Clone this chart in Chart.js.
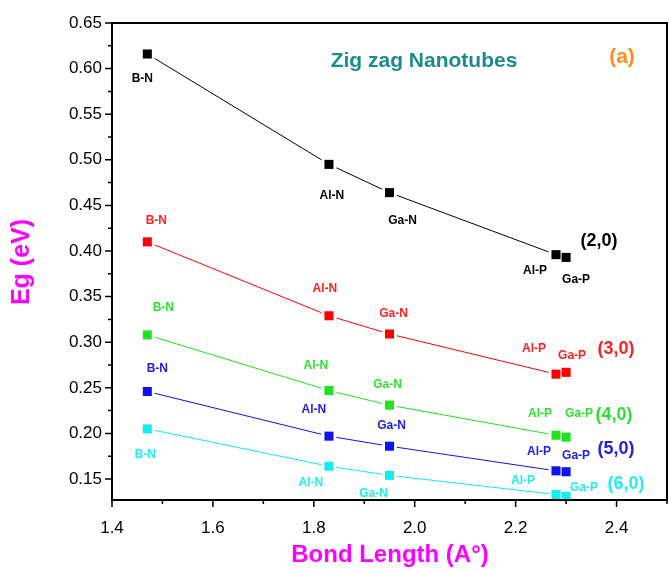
<!DOCTYPE html>
<html>
<head>
<meta charset="utf-8">
<script src="https://cdn.jsdelivr.net/npm/chart.js@4.4.0/dist/chart.umd.min.js"></script>
<style>
html,body{margin:0;padding:0;background:#fff;overflow:hidden;}
#wrap{width:671px;height:570px;position:relative;}
canvas{display:block;}
</style>
</head>
<body>
<div id="wrap"><canvas id="c" width="671" height="570"></canvas></div>
<script>
// ---- data ----
const materials = ['B-N', 'Al-N', 'Ga-N', 'Al-P', 'Ga-P'];
const bondLength = [1.47, 1.83, 1.95, 2.28, 2.30];
const eg20 = [0.616, 0.495, 0.464, 0.396, 0.393];
const eg30 = [0.410, 0.329, 0.309, 0.265, 0.267];
const eg40 = [0.308, 0.247, 0.231, 0.198, 0.196];
const eg50 = [0.246, 0.197, 0.186, 0.159, 0.158];
const eg60 = [0.205, 0.164, 0.154, 0.133, 0.131];
const seriesNames = ['(2,0)', '(3,0)', '(4,0)', '(5,0)', '(6,0)'];
const xTicks = [1.4, 1.6, 1.8, 2.0, 2.2, 2.4];
const yTicks = [0.15, 0.20, 0.25, 0.30, 0.35, 0.40, 0.45, 0.50, 0.55, 0.60, 0.65];
const xMinorTicks = [1.5, 1.7, 1.9, 2.1, 2.3, 2.5];
const yMinorTicks = [0.175, 0.225, 0.275, 0.325, 0.375, 0.425, 0.475, 0.525, 0.575, 0.625];

// ---- styling ----
const allSeries = [eg20, eg30, eg40, eg50, eg60];
const colors = ['#000000', '#ff0000', '#22e022', '#1010f0', '#10eeee'];
const labelColors = ['#000000', '#ff2020', '#30e030', '#2020e0', '#20eeee'];
// pixel offsets of the point labels relative to their markers
const labelOffsets = [
  [[-5, 25], [3, 31], [13, 28], [-21, 16], [10, 22]],
  [[9, -21], [-4, -27], [4, -20], [-22, -25], [6, -17]],
  [[16, -27], [-13, -25], [-2, -20], [-16, -22], [13, -23]],
  [[10, -23], [-15, -26], [2, -21], [-17, -19], [10, -16]],
  [[-2, 26], [-18, 16], [-16, 18], [-33, -14], [18, -9]]
];
const seriesLabelOffsets = [[33, -16], [50, -23], [48, -22], [50, -23], [60, -12]];

const FONT = "'Liberation Sans', Arial, sans-serif";

const datasets = [];
allSeries.forEach((vals, i) => {
  const pts = bondLength.map((x, j) => ({x: x, y: vals[j]}));
  datasets.push({
    data: pts, showLine: true, borderColor: colors[i], borderWidth: 1,
    pointRadius: 0, order: 3,
    segment: { borderColor: ctx => ctx.p1DataIndex === 4 ? 'rgba(0,0,0,0)' : colors[i] }
  });
  datasets.push({
    data: pts, showLine: false, pointStyle: 'rect', pointRadius: 10.5,
    pointBackgroundColor: '#ffffff', pointBorderWidth: 0, order: 2, clip: 0
  });
  datasets.push({
    data: pts, showLine: false, pointStyle: 'rect', pointRadius: 6.4,
    pointBackgroundColor: colors[i], pointBorderColor: colors[i], pointBorderWidth: 0, order: 1
  });
});

const decor = {
  id: 'decor',
  afterDraw(chart) {
    const ctx = chart.ctx, a = chart.chartArea;
    const xs = chart.scales.x, ys = chart.scales.y;
    ctx.save();
    // frame
    ctx.strokeStyle = '#000'; ctx.lineWidth = 2;
    ctx.strokeRect(a.left, a.top, a.right - a.left, a.bottom - a.top);
    // ticks
    ctx.lineWidth = 1.5;
    ctx.beginPath();
    xTicks.forEach(v => { const p = xs.getPixelForValue(v); ctx.moveTo(p, a.bottom); ctx.lineTo(p, a.bottom + 7); });
    xMinorTicks.forEach(v => { const p = xs.getPixelForValue(v); ctx.moveTo(p, a.bottom); ctx.lineTo(p, a.bottom + 4); });
    yTicks.forEach(v => { const p = ys.getPixelForValue(v); ctx.moveTo(a.left, p); ctx.lineTo(a.left - 7, p); });
    yMinorTicks.forEach(v => { const p = ys.getPixelForValue(v); ctx.moveTo(a.left, p); ctx.lineTo(a.left - 4, p); });
    ctx.stroke();

    // point labels
    ctx.textAlign = 'center'; ctx.textBaseline = 'middle';
    allSeries.forEach((vals, i) => {
      ctx.fillStyle = labelColors[i];
      ctx.font = 'bold 12px ' + FONT;
      materials.forEach((m, j) => {
        const px = xs.getPixelForValue(bondLength[j]);
        const py = ys.getPixelForValue(vals[j]);
        ctx.fillText(m, px + labelOffsets[i][j][0], py + labelOffsets[i][j][1]);
      });
      ctx.font = 'bold 18px ' + FONT;
      const lx = xs.getPixelForValue(bondLength[4]);
      const ly = ys.getPixelForValue(vals[4]);
      ctx.fillText(seriesNames[i], lx + seriesLabelOffsets[i][0], ly + seriesLabelOffsets[i][1]);
    });

    // title and panel tag
    ctx.font = 'bold 21px ' + FONT;
    ctx.fillStyle = '#1b8c8c';
    ctx.fillText('Zig zag Nanotubes', 424, 61);
    ctx.fillStyle = '#ff8c1a';
    ctx.fillText('(a)', 622, 57);

    // axis titles
    ctx.fillStyle = '#ff00ff';
    ctx.font = 'bold 24px ' + FONT;
    ctx.fillText('Bond Length (A\u00b0)', 390, 555);
    ctx.save();
    ctx.translate(22, 262);
    ctx.rotate(-Math.PI / 2);
    ctx.font = 'bold 25px ' + FONT;
    ctx.fillText('Eg (eV)', 0, 0);
    ctx.restore();
    ctx.restore();
  }
};

new Chart(document.getElementById('c'), {
  type: 'scatter',
  data: { datasets: datasets },
  options: {
    responsive: false, animation: false, devicePixelRatio: 1,
    layout: { autoPadding: false, padding: { left: 0, top: 23, right: 4, bottom: 0 } },
    plugins: { legend: { display: false }, tooltip: { enabled: false } },
    scales: {
      x: {
        type: 'linear', min: 1.4, max: 2.5,
        afterBuildTicks: s => { s.ticks = xTicks.concat([2.5]).map(v => ({value: v})); },
        afterFit: s => { s.height = 70; s.paddingRight = 0; },
        grid: { display: true, drawOnChartArea: false, drawTicks: false },
        border: { display: false },
        ticks: { padding: 18, color: '#000', font: { family: FONT, size: 17 }, callback: v => (xTicks.includes(v) ? v.toFixed(1) : ''), maxRotation: 0, autoSkip: false }
      },
      y: {
        type: 'linear', min: 0.127, max: 0.65,
        afterBuildTicks: s => { s.ticks = yTicks.map(v => ({value: v})); },
        afterFit: s => { s.width = 112; },
        grid: { display: true, drawOnChartArea: false, drawTicks: false },
        border: { display: false },
        ticks: { padding: 10, color: '#000', font: { family: FONT, size: 17 }, callback: v => v.toFixed(2), autoSkip: false }
      }
    }
  },
  plugins: [decor]
});
</script>
</body>
</html>
